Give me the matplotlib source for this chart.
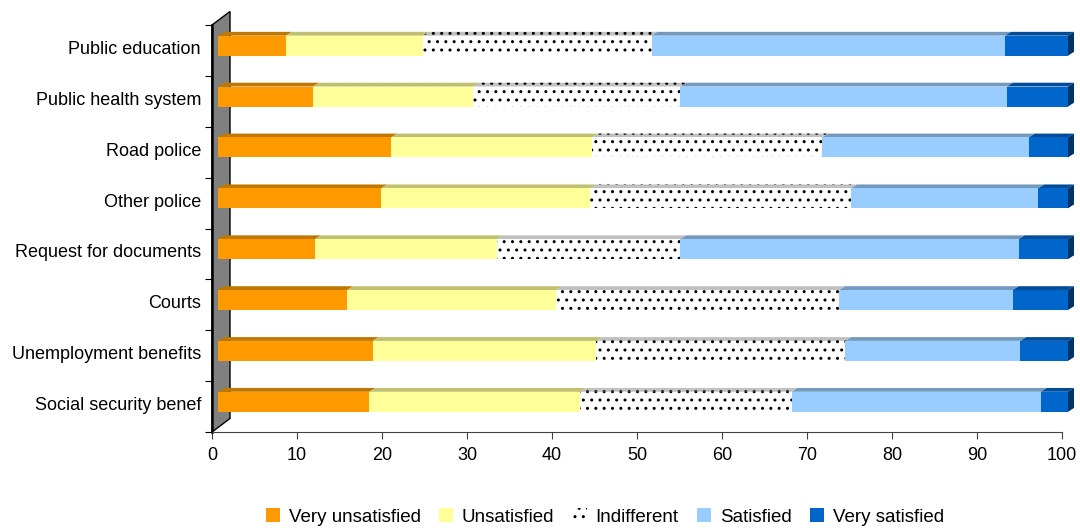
import matplotlib
matplotlib.use("Agg")
import matplotlib.pyplot as plt
import matplotlib.transforms as mtransforms
from matplotlib.patches import Polygon, Patch
import numpy as np

# data (percent), top to bottom
categories = ["Public education", "Public health system", "Road police", "Other police",
              "Request for documents", "Courts", "Unemployment benefits", "Social security benef"]
very_unsatisfied = [8.0, 11.2, 20.4, 19.2, 11.4, 15.2, 18.2, 17.8]
unsatisfied = [16.1, 18.8, 23.6, 24.6, 21.4, 24.6, 26.3, 24.8]
indifferent = [26.9, 24.4, 27.1, 30.7, 21.6, 33.3, 29.3, 24.9]
satisfied = [41.6, 38.4, 24.3, 22.0, 39.8, 20.4, 20.6, 29.3]
very_satisfied = [7.4, 7.2, 4.6, 3.5, 5.8, 6.5, 5.6, 3.2]

series_names = ["Very unsatisfied", "Unsatisfied", "Indifferent", "Satisfied", "Very satisfied"]
front_colors = ["#FF9900", "#FFFF99", "#FFFFFF", "#99CCFF", "#0066CC"]
top_colors = ["#C07800", "#C0C070", "#C0C0C0", "#7399BF", "#004C99"]
side_color = "#003366"
hatches = [None, None, "..", None, None]

plt.rcParams['font.family'] = ['Liberation Sans', 'DejaVu Sans']

fig = plt.figure(figsize=(10.8, 5.29), dpi=100)
ax = fig.add_axes([212 / 1080, 97 / 529, 850 / 1080, 407 / 529])
ax.set_xlim(0, 100)
ax.set_ylim(len(categories), 0)

# front faces are shifted a bit (3d look)
front = ax.transData + mtransforms.ScaledTranslation(0.06, 0.048, fig.dpi_scale_trans)
ddx = 6 / 8.5      # depth in x data units
ddy = 3.8 / 50.875  # depth in y data units
h = 0.393

# grey wall on the left
wdx, wdy = 18 / 8.5, 13.5 / 50.875
n = len(categories)
wall = Polygon([(0, n), (0, 0), (wdx, -wdy), (wdx, n - wdy)], closed=True,
               facecolor="#808080", edgecolor="black", linewidth=1, clip_on=False, zorder=1)
ax.add_patch(wall)
ax.plot([0, 0], [n, 0], color="black", lw=1.8, clip_on=False, zorder=2)

series = [very_unsatisfied, unsatisfied, indifferent, satisfied, very_satisfied]
y = np.arange(n) + 0.5
left = np.zeros(n)
for k, vals in enumerate(series):
    vals = np.array(vals)
    for i in range(n):
        l, r = left[i], left[i] + vals[i]
        yt = y[i] - h / 2
        top = Polygon([(l, yt), (r, yt), (r + ddx, yt - ddy), (l + ddx, yt - ddy)], closed=True,
                      facecolor=top_colors[k], edgecolor="black" if hatches[k] else "none",
                      linewidth=0, hatch=hatches[k], transform=front, clip_on=False, zorder=3)
        ax.add_patch(top)
    ax.barh(y, vals, left=left, height=h, color=front_colors[k],
            edgecolor="black" if hatches[k] else "none", linewidth=0, hatch=hatches[k],
            transform=front, clip_on=False, zorder=4)
    left = left + vals

# right side of the last segment
for i in range(n):
    yt, yb = y[i] - h / 2, y[i] + h / 2
    side = Polygon([(left[i], yt), (left[i] + ddx, yt - ddy), (left[i] + ddx, yb - ddy), (left[i], yb)],
                   closed=True, facecolor=side_color, edgecolor="none", transform=front,
                   clip_on=False, zorder=4)
    ax.add_patch(side)

# axes styling
for s in ["top", "right", "left"]:
    ax.spines[s].set_visible(False)
ax.spines["bottom"].set_color("#404040")
ax.set_xticks(np.arange(0, 101, 10))
ax.tick_params(axis="x", direction="out", length=5, color="#404040", labelsize=13, pad=6)
ax.set_yticks(np.arange(n + 1))
ax.set_yticklabels([])
# labels sit slightly above the middle of each band
ax.set_yticks(y - 3 / 50.875, minor=True)
ax.set_yticklabels(categories, minor=True)
ax.tick_params(axis="y", which="major", direction="out", length=5, color="black")
ax.tick_params(axis="y", which="minor", length=0, labelsize=13, pad=8)

handles = [Patch(facecolor=front_colors[k], edgecolor="black" if hatches[k] else "none",
                 linewidth=0, hatch=hatches[k]) for k in range(5)]
fig.legend(handles, series_names, loc="center", bbox_to_anchor=(605 / 1080, 1 - 517 / 529),
           ncol=5, frameon=False, fontsize=13.5, handlelength=0.75, handleheight=0.75,
           handletextpad=0.45, columnspacing=1.0)

fig.savefig("out.png", dpi=100)
